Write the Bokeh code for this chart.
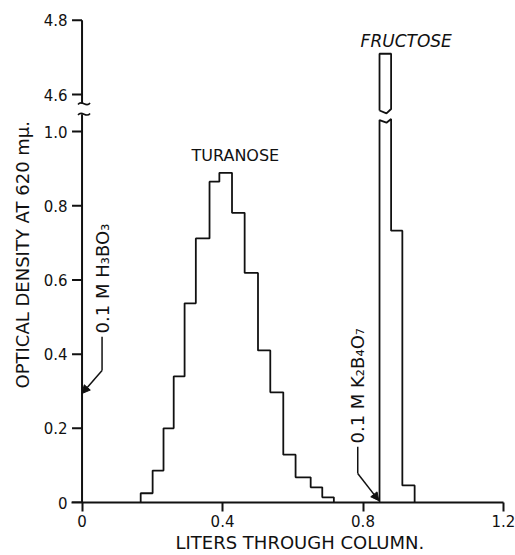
import math
from bokeh.plotting import figure
from bokeh.models import Range1d, FixedTicker, Label, Arrow, NormalHead, Title
from bokeh.core.properties import value
from bokeh.embed import file_html
from bokeh.resources import INLINE

# ---------------- data ----------------
turanose_edges = [0.167, 0.201, 0.232, 0.261, 0.292, 0.324, 0.363, 0.391, 0.427,
                  0.463, 0.501, 0.536, 0.573, 0.608, 0.651, 0.684, 0.717]
turanose_od = [0.025, 0.086, 0.200, 0.340, 0.537, 0.712, 0.865, 0.889, 0.781,
               0.619, 0.410, 0.297, 0.129, 0.068, 0.041, 0.014]
fructose_edges = [0.847, 0.880, 0.912, 0.947]
fructose_od = [4.71, 0.733, 0.046]

x_ticks = [0, 0.4, 0.8, 1.2]
x_tick_labels = ["0", "0.4", "0.8", "1.2"]
y_ticks = [0, 0.2, 0.4, 0.6, 0.8, 1.0, 4.6, 4.8]
y_tick_labels = ["0", "0.2", "0.4", "0.6", "0.8", "1.0", "4.6", "4.8"]

h3bo3_arrow_tip = (0.0, 0.294)
k2b4o7_arrow_tip = (0.845, 0.005)

# broken y axis: values above BREAK_LO are drawn on an upper segment shifted down
BREAK_LO = 1.05
BREAK_SHIFT = 3.5


def disp(v):
    return round(v - BREAK_SHIFT, 6) if v > BREAK_LO else v


FONT = "DejaVu Sans"
BLACK = "#111111"

p = figure(width=515, height=555,
           x_range=Range1d(-0.03, 1.2), y_range=Range1d(0, 1.305),
           output_backend="svg", toolbar_location=None,
           min_border_left=71, min_border_right=12, min_border_top=18, min_border_bottom=53)
p.xgrid.visible = False
p.ygrid.visible = False
p.outline_line_color = None
p.background_fill_color = "white"
p.border_fill_color = "white"

# x axis (Bokeh) with outward ticks
p.xaxis.ticker = FixedTicker(ticks=x_ticks)
p.xaxis.major_label_overrides = {t: s for t, s in zip(x_ticks, x_tick_labels)}
p.xaxis.axis_line_color = BLACK
p.xaxis.axis_line_width = 2
p.xaxis.major_tick_line_color = BLACK
p.xaxis.major_tick_line_width = 2
p.xaxis.major_tick_out = 9
p.xaxis.major_tick_in = 0
p.xaxis.major_label_standoff = 3

# y axis (Bokeh) for labels; broken axis line and ticks drawn as glyphs
p.yaxis.ticker = FixedTicker(ticks=[disp(v) for v in y_ticks])
p.yaxis.major_label_overrides = {disp(t): s for t, s in zip(y_ticks, y_tick_labels)}
p.yaxis.axis_line_color = None
p.yaxis.major_tick_line_color = None
p.yaxis.major_tick_out = 0
p.yaxis.major_tick_in = 0
p.yaxis.major_label_standoff = 4
for ax in (p.xaxis, p.yaxis):
    ax.minor_tick_line_color = None
    ax.major_label_text_font = FONT
    ax.major_label_text_font_size = "15px"
    ax.major_label_text_color = BLACK

AX_W = 2
lower_sq, upper_sq = 1.047, 1.075
p.segment(x0=[0, 0], y0=[0, upper_sq], x1=[0, 0], y1=[lower_sq, disp(y_ticks[-1])],
          line_color=BLACK, line_width=AX_W)
yt = [disp(v) for v in y_ticks]
p.segment(x0=[0] * len(yt), y0=yt, x1=[-0.0285] * len(yt), y1=yt,
          line_color=BLACK, line_width=AX_W)
# break squiggles on the axis
sx0, sx1 = -0.0114, 0.0228
w = sx1 - sx0
for yc in (lower_sq, upper_sq):
    p.bezier(x0=[sx0], y0=[yc - 0.002], x1=[sx1], y1=[yc + 0.002],
             cx0=[sx0 + 0.35 * w], cy0=[yc + 0.013], cx1=[sx0 + 0.65 * w], cy1=[yc - 0.013],
             line_color=BLACK, line_width=1.6)

# ---------------- turanose step outline ----------------
tx = [turanose_edges[0]]
ty = [0]
for i, v in enumerate(turanose_od):
    tx += [turanose_edges[i], turanose_edges[i + 1]]
    ty += [disp(v), disp(v)]
tx.append(turanose_edges[-1])
ty.append(0)
p.line(tx, ty, line_color=BLACK, line_width=1.8)

# ---------------- fructose step outline (tall bar broken) ----------------
e = fructose_edges
v = [disp(val) for val in fructose_od]
cap_lo = [1.031, 1.024, 1.034]     # top of lower piece (notched)
cap_hi = [1.057, 1.049, 1.061]     # bottom of upper piece (notched)
cap_x = [e[0], e[0] + 0.6 * (e[1] - e[0]), e[1]]
fx = [e[0], e[0]] + cap_x + [e[1], e[2], e[2], e[3], e[3]]
fy = [0, cap_lo[0]] + cap_lo + [v[1], v[1], v[2], v[2], 0]
p.line(fx, fy, line_color=BLACK, line_width=1.8)
ux = [e[0], e[0], e[1], e[1]] + cap_x[::-1]
uy = [cap_hi[0], v[0], v[0], cap_hi[2]] + cap_hi[::-1]
p.line(ux, uy, line_color=BLACK, line_width=1.8)

# ---------------- texts ----------------
p.add_layout(Title(text="LITERS THROUGH COLUMN.", align="left", offset=104, standoff=0,
                   text_font=FONT, text_font_size="18px", text_font_style="normal",
                   text_color=BLACK), "below")
p.add_layout(Title(text="OPTICAL DENSITY AT 620 mμ.", align="left", offset=114, standoff=15,
                   text_font=FONT, text_font_size="18px", text_font_style="normal",
                   text_color=BLACK), "left")

p.add_layout(Label(x=0.4365, y=0.935, text="TURANOSE", text_align="center",
                   text_baseline="middle", text_font=FONT, text_font_size="16px",
                   text_color=BLACK))
p.add_layout(Label(x=0.923, y=1.245, text="FRUCTOSE", text_align="center",
                   text_baseline="middle", text_font=FONT, text_font_size="17px",
                   text_font_style="italic", text_color=BLACK))

hx = 0.057
p.add_layout(Label(x=hx, y=0.456, text="0.1 M H₃BO₃", angle=math.pi / 2,
                   text_align="left", text_baseline="middle", text_font=FONT,
                   text_font_size="18px", text_color=BLACK))
p.line([hx, hx], [0.447, 0.356], line_color=BLACK, line_width=1.5)
p.add_layout(Arrow(x_start=hx, y_start=0.356, x_end=h3bo3_arrow_tip[0], y_end=h3bo3_arrow_tip[1],
                   line_color=BLACK, line_width=1.5,
                   end=NormalHead(size=8, fill_color=BLACK, line_color=BLACK)))

kx = 0.785
p.add_layout(Label(x=kx, y=0.159, text="0.1 M K₂B₄O₇", angle=math.pi / 2,
                   text_align="left", text_baseline="middle", text_font=FONT,
                   text_font_size="18px", text_color=BLACK))
p.line([kx, kx], [0.150, 0.078], line_color=BLACK, line_width=1.5)
p.add_layout(Arrow(x_start=kx, y_start=0.078, x_end=k2b4o7_arrow_tip[0], y_end=k2b4o7_arrow_tip[1],
                   line_color=BLACK, line_width=1.5,
                   end=NormalHead(size=8, fill_color=BLACK, line_color=BLACK)))

open("out.html", "w").write(file_html(p, INLINE))
